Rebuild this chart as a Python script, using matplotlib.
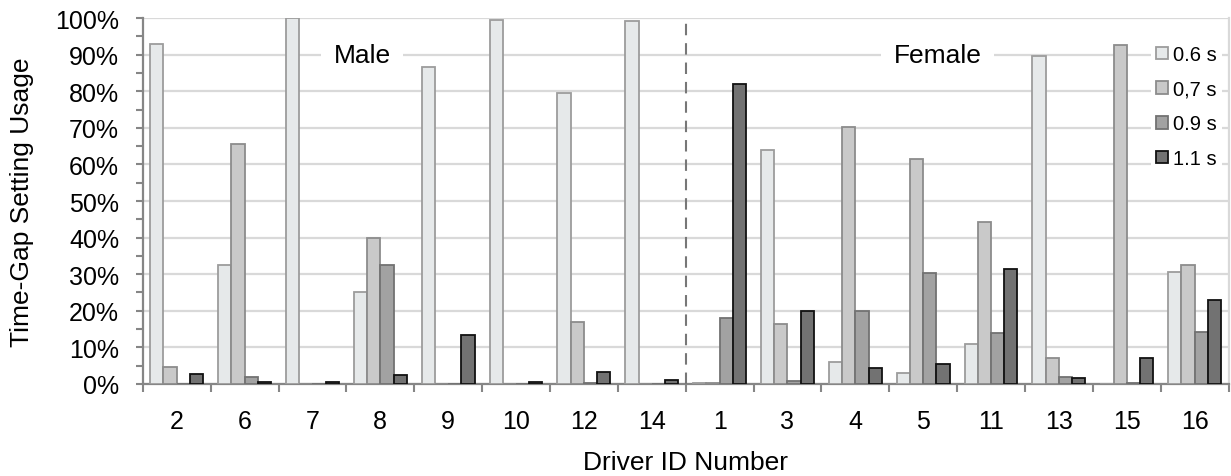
import matplotlib
matplotlib.use("Agg")
import matplotlib.pyplot as plt
import numpy as np

plt.rcParams['font.family'] = ['Liberation Sans', 'DejaVu Sans']

drivers = ['2', '6', '7', '8', '9', '10', '12', '14', '1', '3', '4', '5', '11', '13', '15', '16']
gaps = ['0.6 s', '0,7 s', '0.9 s', '1.1 s']

# usage in percent, one list per time-gap setting
g06 = [93.0, 32.5, 100.0, 25.0, 86.7, 99.5, 79.5, 99.3, 0.2, 64.0, 6.0, 3.0, 11.0, 89.7, 0.0, 30.7]
g07 = [4.5, 65.5, 0.0, 40.0, 0.0, 0.0, 17.0, 0.0, 0.3, 16.3, 70.3, 61.5, 44.3, 7.0, 92.7, 32.5]
g09 = [0.0, 2.0, 0.0, 32.5, 0.0, 0.0, 0.3, 0.0, 18.0, 0.8, 20.0, 30.3, 14.0, 2.0, 0.2, 14.3]
g11 = [2.8, 0.5, 0.5, 2.5, 13.5, 0.5, 3.3, 1.0, 82.0, 20.0, 4.3, 5.5, 31.5, 1.5, 7.2, 23.0]

fills = ['#E6E9EA', '#C9C9C9', '#A2A2A2', '#727272']
edges = ['#9C9C9C', '#8C8C8C', '#727272', '#111111']

fig = plt.figure(figsize=(12.31, 4.77), dpi=100)
ax = fig.add_axes([0.116, 0.193, 0.882, 0.767])

x = np.arange(len(drivers))
w = 0.195
for i, vals in enumerate([g06, g07, g09, g11]):
	ax.bar(x + (i - 1.5) * w, vals, w, color=fills[i], edgecolor=edges[i],
		linewidth=1.3, label=gaps[i], zorder=3)

ax.set_xlim(-0.5, len(drivers) - 0.5)
ax.set_ylim(0, 100)
ax.set_yticks(np.arange(0, 101, 10))
ax.set_yticks(np.arange(5, 100, 10), minor=True)
ax.set_yticklabels(['%d%%' % v for v in range(0, 101, 10)], fontsize=18)
ax.yaxis.grid(True, color='#D9D9D9', linewidth=1.6, zorder=0)
ax.set_axisbelow(True)

ax.set_xticks(x)
ax.set_xticklabels(drivers, fontsize=18)
ax.set_xticks(np.arange(-0.5, len(drivers), 1), minor=True)
ax.tick_params(axis='x', which='major', length=0, pad=18)
ax.tick_params(axis='x', which='minor', length=6, width=1.5, color='#868686')
ax.tick_params(axis='y', which='both', length=5, width=1.5, color='#868686', pad=12)

for s in ['left', 'bottom']:
	ax.spines[s].set_color('#868686')
	ax.spines[s].set_linewidth(1.6)
ax.spines['top'].set_visible(False)
ax.spines['right'].set_color('#D9D9D9')
ax.spines['right'].set_linewidth(1.6)

ax.set_ylabel('Time-Gap Setting Usage', fontsize=19)
ax.yaxis.set_label_coords(-0.100, 0.5)
ax.set_xlabel('Driver ID Number', fontsize=19, labelpad=12)

# male / female split
ax.vlines(7.5, 0, 98.6, colors='#777777', linestyles=(0, (5.5, 3.8)), linewidth=1.5, zorder=4)
ax.text(2.73, 90, 'Male', fontsize=19, ha='center', va='center', zorder=2,
	bbox=dict(facecolor='white', edgecolor='none', pad=9))
ax.text(11.21, 90, 'Female', fontsize=19, ha='center', va='center', zorder=2,
	bbox=dict(facecolor='white', edgecolor='none', pad=9))

leg = ax.legend(loc='upper right', bbox_to_anchor=(0.994, 0.94), fontsize=14.5,
	frameon=True, fancybox=False, edgecolor='none', framealpha=1,
	handlelength=0.6, handleheight=0.6, handletextpad=0.25, labelspacing=0.78,
	borderpad=0.25, borderaxespad=0)

fig.savefig('out.png', dpi=100)
